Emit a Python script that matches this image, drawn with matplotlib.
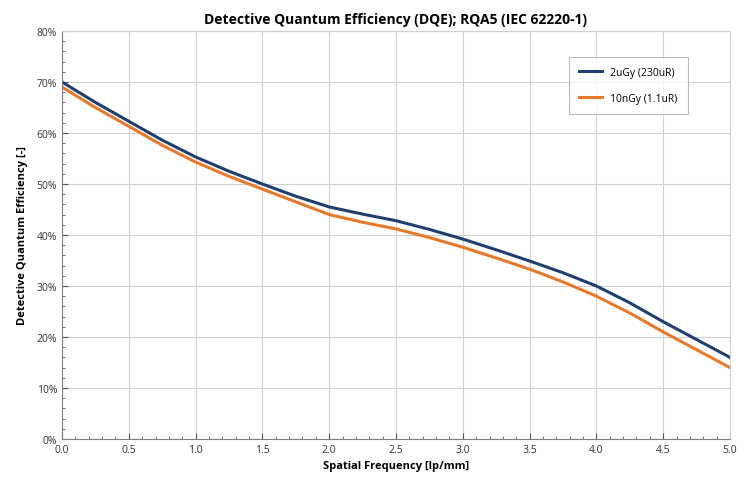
import numpy as np
import matplotlib
matplotlib.use("Agg")
import matplotlib.pyplot as plt
from matplotlib.ticker import MultipleLocator, FuncFormatter

plt.rcParams['font.family'] = ['Open Sans', 'DejaVu Sans']

freq = [0.0, 0.25, 0.5, 0.75, 1.0, 1.25, 1.5, 1.75, 2.0, 2.25, 2.5, 2.75,
        3.0, 3.25, 3.5, 3.75, 4.0, 4.25, 4.5, 4.75, 5.0]
dqe_2ugy = [70.0, 66.0, 62.3, 58.6, 55.3, 52.5, 50.0, 47.6, 45.5, 44.1, 42.8, 41.1,
            39.2, 37.1, 34.9, 32.6, 30.0, 26.7, 23.0, 19.5, 16.0]
dqe_10ngy = [69.0, 65.0, 61.3, 57.6, 54.3, 51.5, 49.0, 46.5, 44.0, 42.5, 41.2, 39.5,
             37.6, 35.5, 33.3, 30.8, 28.0, 24.7, 21.0, 17.5, 14.0]

fig = plt.figure(figsize=(7.48, 4.85), dpi=100)
ax = fig.add_axes([62/748, 45/485, 668/748, 408/485])

ax.plot(freq, dqe_2ugy, color='#1f3f6e', lw=2.2, label='2uGy (230uR)')
ax.plot(freq, dqe_10ngy, color='#e8792a', lw=2.2, label='10nGy (1.1uR)')

ax.set_xlim(0, 5)
ax.set_ylim(0, 80)
ax.xaxis.set_major_locator(MultipleLocator(0.5))
ax.xaxis.set_minor_locator(MultipleLocator(0.1))
ax.yaxis.set_major_locator(MultipleLocator(10))
ax.yaxis.set_minor_locator(MultipleLocator(2))
ax.xaxis.set_major_formatter(FuncFormatter(lambda v, p: f"{v:.1f}"))
ax.yaxis.set_major_formatter(FuncFormatter(lambda v, p: f"{v:.0f}%"))
ax.grid(True, which='major', color='#d0d0d0', lw=0.8)
ax.set_axisbelow(True)
for s in ['top', 'right']:
    ax.spines[s].set_color('#d0d0d0')
for s in ['left', 'bottom']:
    ax.spines[s].set_color('#808080')
ax.tick_params(which='both', direction='in', labelsize=7.5, colors='#555555', labelcolor='#333333')
ax.tick_params(which='major', length=4)
ax.tick_params(which='minor', length=2.5)

ax.set_title('Detective Quantum Efficiency (DQE); RQA5 (IEC 62220-1)',
             fontsize=10, fontweight='bold', pad=6)
ax.set_xlabel('Spatial Frequency [lp/mm]', fontsize=8, fontweight='bold', labelpad=4)
ax.set_ylabel('Detective Quantum Efficiency [-]', fontsize=8, fontweight='bold', labelpad=6)

leg = ax.legend(loc='upper right', bbox_to_anchor=(0.945, 0.95), fontsize=7.5,
                frameon=True, fancybox=False, edgecolor='#aaaaaa',
                handlelength=2.2, borderpad=1.0, labelspacing=1.4)
leg.get_frame().set_linewidth(0.8)

fig.savefig('out.png', dpi=100)
